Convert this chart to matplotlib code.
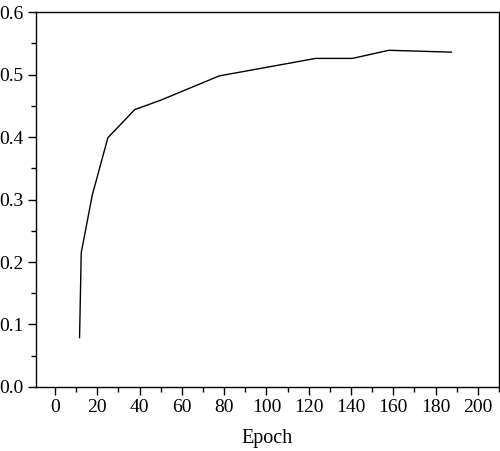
import numpy as np
import matplotlib.pyplot as plt
from matplotlib.ticker import MultipleLocator

epoch = [11.6, 12.4, 17.6, 25.0, 37.7, 49.9, 77.7, 123.3, 140.7, 157.9, 187.5]
value = [0.079, 0.215, 0.307, 0.399, 0.444, 0.459, 0.498, 0.526, 0.526, 0.539, 0.536]

plt.rcParams['font.family'] = ['Liberation Serif', 'DejaVu Serif']

fig = plt.figure(figsize=(5.0, 4.51), dpi=100)
ax = fig.add_axes([0.072, 0.142, 0.926, 0.831])

ax.plot(epoch, value, color='black', linewidth=1.0)

ax.set_xlim(-9, 210)
ax.set_ylim(0.0, 0.6)
ax.xaxis.set_minor_locator(MultipleLocator(10))
ax.yaxis.set_minor_locator(MultipleLocator(0.05))
ax.set_xticks(np.arange(0, 201, 20))
ax.set_yticks(np.arange(0, 0.61, 0.1))
ax.set_yticklabels([f"{v:.1f}" for v in np.arange(0, 0.61, 0.1)])

ax.tick_params(which='major', direction='out', length=6, width=1, labelsize=14, pad=3)
ax.tick_params(which='minor', direction='out', length=3.5, width=1)
ax.tick_params(top=False, right=False)
for s in ax.spines.values():
    s.set_linewidth(1.0)

ax.set_xlabel("Epoch", fontsize=14.5, labelpad=9)

plt.savefig("out.png", dpi=100)
